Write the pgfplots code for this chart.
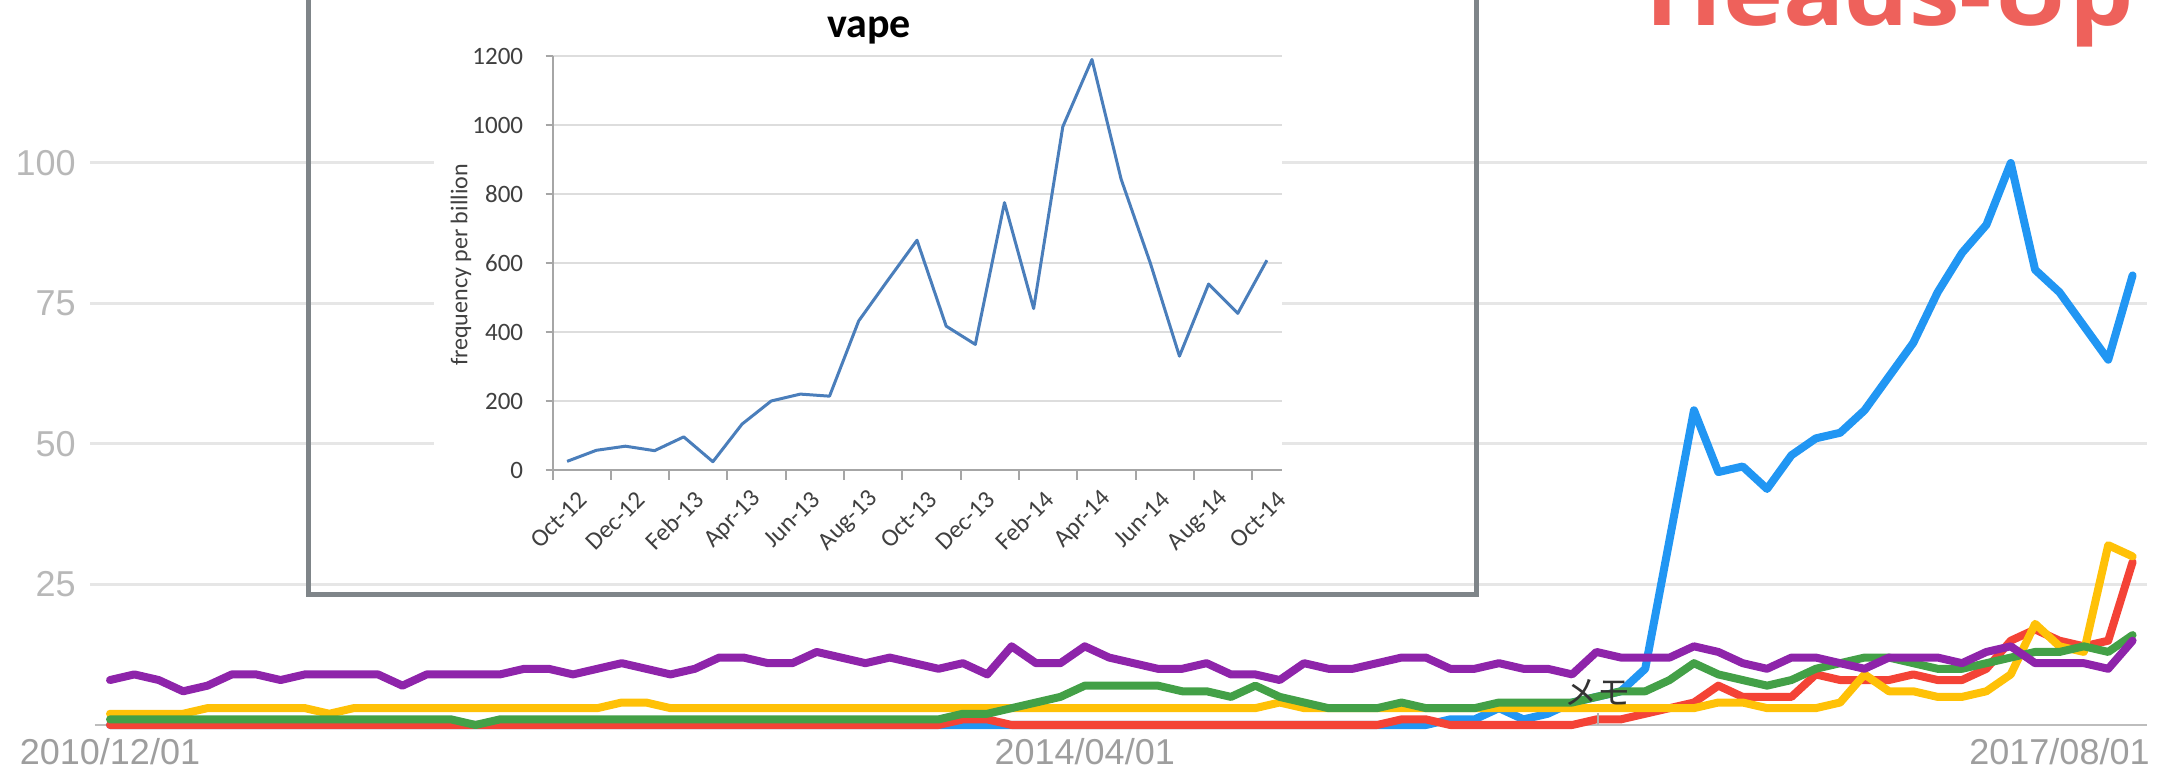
\documentclass[border=0pt]{standalone}
\usepackage{fontspec}
\setmainfont{Liberation Sans}
\newfontfamily\carlito{Carlito}
\newfontfamily\cjk{Noto Sans CJK JP}
\newfontfamily\headfont{Open Sans}
\usepackage{graphicx}
\usepackage{pgfplots}
\usepackage{pgfplotstable}
\pgfplotsset{compat=1.18}

\definecolor{gblue}{HTML}{2196F3}
\definecolor{gred}{HTML}{F44336}
\definecolor{gyellow}{HTML}{FFC107}
\definecolor{ggreen}{HTML}{43A047}
\definecolor{gpurple}{HTML}{8E24AA}
\definecolor{gridc}{HTML}{E6E6E6}
\definecolor{basec}{HTML}{BDBDBD}
\definecolor{ylab}{HTML}{B8B8B8}
\definecolor{xlab}{HTML}{9E9E9E}
\definecolor{boxc}{HTML}{7F8589}
\definecolor{headc}{HTML}{EE615B}
\definecolor{xlblue}{HTML}{4A7EBB}
\definecolor{xlgrid}{HTML}{DDDDDD}
\definecolor{xlaxis}{HTML}{A6A6A6}
\definecolor{xltext}{HTML}{404040}
\definecolor{memoc}{HTML}{333333}

\pgfplotstableread{
m blue red yellow green purple
0 0 0 2 1 8
1 0 0 2 1 9
2 0 0 2 1 8
3 0 0 2 1 6
4 0 0 3 1 7
5 0 0 3 1 9
6 0 0 3 1 9
7 0 0 3 1 8
8 0 0 3 1 9
9 0 0 2 1 9
10 0 0 3 1 9
11 0 0 3 1 9
12 0 0 3 1 7
13 0 0 3 1 9
14 0 0 3 1 9
15 0 0 3 0 9
16 0 0 3 1 9
17 0 0 3 1 10
18 0 0 3 1 10
19 0 0 3 1 9
20 0 0 3 1 10
21 0 0 4 1 11
22 0 0 4 1 10
23 0 0 3 1 9
24 0 0 3 1 10
25 0 0 3 1 12
26 0 0 3 1 12
27 0 0 3 1 11
28 0 0 3 1 11
29 0 0 3 1 13
30 0 0 3 1 12
31 0 0 3 1 11
32 0 0 3 1 12
33 0 0 3 1 11
34 0 0 3 1 10
35 0 1 3 2 11
36 0 1 3 2 9
37 0 0 3 3 14
38 0 0 3 4 11
39 0 0 3 5 11
40 0 0 3 7 14
41 0 0 3 7 12
42 0 0 3 7 11
43 0 0 3 7 10
44 0 0 3 6 10
45 0 0 3 6 11
46 0 0 3 5 9
47 0 0 3 7 9
48 0 0 4 5 8
49 0 0 3 4 11
50 0 0 3 3 10
51 0 0 3 3 10
52 0 0 3 3 11
53 0 1 3 4 12
54 0 1 3 3 12
55 1 0 3 3 10
56 1 0 3 3 10
57 3 0 3 4 11
58 1 0 3 4 10
59 2 0 3 4 10
60 4 0 3 4 9
61 5 1 3 5 13
62 6 1 3 6 12
63 10 2 3 6 12
64 33 3 3 8 12
65 56 4 3 11 14
66 45 7 4 9 13
67 46 5 4 8 11
68 42 5 3 7 10
69 48 5 3 8 12
70 51 9 3 10 12
71 52 8 4 11 11
72 56 8 9 12 10
73 62 8 6 12 12
74 68 9 6 11 12
75 77 8 5 10 12
76 84 8 5 10 11
77 89 10 6 11 13
78 100 15 9 12 14
79 81 17 18 13 11
80 77 15 14 13 11
81 71 14 13 14 11
82 65 15 32 13 10
83 80 29 30 16 15
}\maindata

\pgfplotstableread{
i v
0 25
1 57
2 69
3 56
4 96
5 24
6 133
7 200
8 220
9 214
10 432
11 550
12 666
13 417
14 364
15 775
16 468
17 995
18 1190
19 843
20 600
21 330
22 539
23 454
24 608
}\vapedata

\begin{document}
\begin{tikzpicture}
\path[use as bounding box] (0,0) rectangle (1091bp,384bp);

% main Google-Trends-like chart
\begin{axis}[
  at={(45bp,21.5bp)}, anchor=south west,
  scale only axis, width=1028.5bp, height=281bp,
  xmin=-0.8207, xmax=83.587, ymin=0, ymax=100,
  clip=false,
  axis line style={draw=none},
  tick style={draw=none},
  major tick length=0pt,
  xtick={0,40,80}, xticklabels={2010/12/01,2014/04/01,2017/08/01},
  ytick={25,50,75,100}, yticklabels={25,50,75,100},
  ymajorgrids, major grid style={color=gridc, line width=1.5bp},
  /pgf/number format/assume math mode=true,
  xticklabel style={anchor=north, inner sep=0pt, yshift=-6.5bp, font=\fontsize{18bp}{18bp}\selectfont, text=xlab},
  yticklabel style={anchor=east, inner sep=0pt, xshift=-7bp, font=\fontsize{18bp}{18bp}\selectfont, text=ylab},
  every axis plot/.append style={line width=4bp, line join=round, line cap=round, mark=none},
]
\draw[basec, line width=1.3bp] (axis cs:-0.62,0) -- (axis cs:83.587,0);
\addplot[gblue] table[x=m,y=blue] {\maindata};
\addplot[gred] table[x=m,y=red] {\maindata};
\addplot[gyellow] table[x=m,y=yellow] {\maindata};
\addplot[ggreen] table[x=m,y=green] {\maindata};
\addplot[gpurple] table[x=m,y=purple] {\maindata};
\end{axis}

% memo annotation
\draw[gray!60, line width=1bp] (799bp,21.5bp) -- (799bp,27.5bp);
\node[text=memoc, inner sep=0pt, font=\cjk\fontsize{16.5bp}{16.5bp}\selectfont] at (798.5bp,38bp) {メモ};

% inset
\fill[white] (217bp,390bp) rectangle (641bp,104bp);
\begin{scope}
\clip (0,0) rectangle (1091bp,384bp);
\draw[boxc, line width=2.5bp] (154bp,86.75bp) rectangle (738bp,400bp);
\end{scope}

\begin{axis}[
  at={(276.25bp,149bp)}, anchor=south west,
  scale only axis, width=364.5bp, height=207bp,
  xmin=-0.5, xmax=24.5, ymin=0, ymax=1200,
  axis lines*=left,
  axis line style={xlaxis, line width=1bp},
  tick align=outside,
  major tick length=3.5bp, minor tick length=5bp,
  tick style={xlaxis, line width=1bp},
  major x tick style={draw=none},
  ytick={0,200,...,1200}, yticklabels={0,200,400,600,800,1000,1200},
  xtick={0,2,...,24},
  xticklabels={Oct-12,Dec-12,Feb-13,Apr-13,Jun-13,Aug-13,Oct-13,Dec-13,Feb-14,Apr-14,Jun-14,Aug-14,Oct-14},
  minor xtick={-0.5,1.5,...,23.5},
  ymajorgrids, major grid style={xlgrid, line width=1.2bp},
  /pgf/number format/assume math mode=true,
  xticklabel style={rotate=45, anchor=east, inner sep=0pt, xshift=-1bp, yshift=-12bp, font=\carlito\fontsize{12.5bp}{12.5bp}\selectfont, text=xltext},
  yticklabel style={anchor=east, inner sep=0pt, xshift=-11bp, font=\carlito\fontsize{12.5bp}{12.5bp}\selectfont, text=xltext},
  ylabel={frequency per billion},
  ylabel style={at={(axis description cs:-0.1255,0.495)}, anchor=center, inner sep=0pt, font=\carlito\fontsize{12bp}{12bp}\selectfont, text=xltext},
]
\addplot[xlblue, line width=1.5bp, mark=none, line join=round] table[x=i,y=v] {\vapedata};
\end{axis}
\node[anchor=base, inner sep=0pt, font=\carlito\bfseries\fontsize{21bp}{21bp}\selectfont] at (434.5bp,365bp) {vape};

% heading (cut at top)
\begin{scope}
\clip (0,0) rectangle (1091bp,384bp);
\node[anchor=base west, inner sep=0pt, text=headc] at (822.5bp,371bp)
  {\resizebox{244bp}{\height}{\headfont\bfseries\fontsize{45bp}{45bp}\selectfont Heads-Up}};
\end{scope}
\end{tikzpicture}
\end{document}
